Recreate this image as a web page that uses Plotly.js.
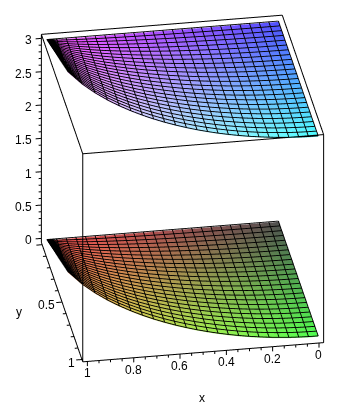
<!DOCTYPE html>
<html>
<head>
<meta charset="utf-8">
<script src="https://cdn.plot.ly/plotly-3.0.1.min.js"></script>
<style>html,body{margin:0;padding:0;background:#fff}#plot{width:356px;height:405px}</style>
</head>
<body>
<div id="plot"></div>
<script>
var xGrid = [0,0.0417,0.0833,0.125,0.1667,0.2083,0.25,0.2917,0.3333,0.375,0.4167,0.4583,0.5,0.5417,0.5833,0.625,0.6667,0.7083,0.75,0.7917,0.8333,0.875,0.9167,0.9583,1];
var yLimit = [1,0.9991,0.9965,0.9922,0.986,0.9781,0.9682,0.9565,0.9428,0.927,0.9091,0.8888,0.866,0.8406,0.8122,0.7806,0.7454,0.7059,0.6614,0.6109,0.5528,0.4841,0.3997,0.286,0];
var fanFraction = [0,0.0417,0.0833,0.125,0.1667,0.2083,0.25,0.2917,0.3333,0.375,0.4167,0.4583,0.5,0.5417,0.5833,0.625,0.6667,0.7083,0.75,0.7917,0.8333,0.875,0.9167,0.9583,1];
var sheetHeights = [0,3];

var xTicks = [0,0.2,0.4,0.6,0.8,1];
var xMinor = [0.05,0.1,0.15,0.25,0.3,0.35,0.45,0.5,0.55,0.65,0.7,0.75,0.85,0.9,0.95];
var yTicks = [0,0.5,1];
var yMinor = [0.1,0.2,0.3,0.4,0.6,0.7,0.8,0.9];
var zTicks = [0,0.5,1,1.5,2,2.5,3];
var zMinor = [0.1,0.2,0.3,0.4,0.6,0.7,0.8,0.9,1.1,1.2,1.3,1.4,1.6,1.7,1.8,1.9,2.1,2.2,2.3,2.4,2.6,2.7,2.8,2.9];
var xBox = [-0.02,1.02], yBox = [-0.02,1.02], zBox = [-0.06,3.06];
var CAM = {eye:{x:0.144*2,y:0.867*2,z:0.48*2}};

function chan(v){return Math.round(80+175*v);}
var traces = [];
sheetHeights.forEach(function(h){
  var X=[],Y=[],Z=[],C=[],I=[],J=[],K=[],n=xGrid.length,m=fanFraction.length;
  for(var a=0;a<n;a++)for(var b=0;b<m;b++){
    var yy=yLimit[a]*fanFraction[b];
    X.push(xGrid[a]);Y.push(yy);Z.push(h);
    C.push('rgb('+chan(xGrid[a])+','+chan(yy)+','+chan(h/3)+')');
  }
  for(a=0;a<n-1;a++)for(b=0;b<m-1;b++){
    var p=a*m+b;
    I.push(p,p);J.push(p+m,p+m+1);K.push(p+m+1,p+1);
  }
  traces.push({type:'mesh3d',x:X,y:Y,z:Z,i:I,j:J,k:K,vertexcolor:C,flatshading:false,
    lighting:{ambient:1,diffuse:0,specular:0,roughness:1,fresnel:0},hoverinfo:'skip',showscale:false});
  var lx=[],ly=[],lz=[],lift=h+0.012;
  for(a=0;a<n;a++){for(b=0;b<m;b++){lx.push(xGrid[a]);ly.push(yLimit[a]*fanFraction[b]);lz.push(lift);}lx.push(null);ly.push(null);lz.push(null);}
  for(b=0;b<m;b++){for(a=0;a<n;a++){lx.push(xGrid[a]);ly.push(yLimit[a]*fanFraction[b]);lz.push(lift);}lx.push(null);ly.push(null);lz.push(null);}
  traces.push({type:'scatter3d',mode:'lines',x:lx,y:ly,z:lz,line:{color:'#000',width:1.8},hoverinfo:'skip',showlegend:false});
});

var bx=[],by=[],bz=[];
function seg(a,b){bx.push(a[0],b[0],null);by.push(a[1],b[1],null);bz.push(a[2],b[2],null);}
var x0=xBox[0],x1=xBox[1],y0=yBox[0],y1=yBox[1],z0=zBox[0],z1=zBox[1];
seg([x1,y0,z1],[x0,y0,z1]);seg([x0,y0,z1],[x0,y1,z1]);seg([x0,y1,z1],[x1,y1,z1]);seg([x1,y1,z1],[x1,y0,z1]);
seg([x1,y0,z0],[x1,y0,z1]);seg([x1,y1,z0],[x1,y1,z1]);seg([x0,y1,z0],[x0,y1,z1]);
seg([x1,y0,z0],[x1,y1,z0]);seg([x1,y1,z0],[x0,y1,z0]);
xTicks.forEach(function(t){seg([t,y1,z0],[t,y1,z0-0.07]);});
xMinor.forEach(function(t){seg([t,y1,z0],[t,y1,z0-0.04]);});
yTicks.forEach(function(t){seg([x1,t,z0],[x1+0.025,t,z0]);});
yMinor.forEach(function(t){seg([x1,t,z0],[x1+0.014,t,z0]);});
zTicks.forEach(function(t){seg([x1,y0,t],[x1+0.025,y0,t]);});
zMinor.forEach(function(t){seg([x1,y0,t],[x1+0.012,y0,t]);});
traces.push({type:'scatter3d',mode:'lines',x:bx,y:by,z:bz,line:{color:'#000',width:2},hoverinfo:'skip',showlegend:false});

var font={family:'"Liberation Sans",Arial,sans-serif',size:12,color:'#000'};
var ann=[];
function label(txt,x,y,z,xa,xs,ys){ann.push({x:x,y:y,z:z,text:txt,showarrow:false,xanchor:xa,yanchor:'middle',xshift:xs,yshift:ys,font:font});}
xTicks.forEach(function(t){label(String(t),t,y1,z0,'center',0,-12);});
yTicks.forEach(function(t){if(t>0)label(String(t),x1,t,z0,'right',-5,-3);});
zTicks.forEach(function(t){label(String(t),x1,y0,t,'right',-7,-2);});
label('x',0.5,y1,z0,'center',-1,-46);
label('y',x1,0.5,z0,'center',-43,-10);

function hidden(r){return {visible:false,range:r};}
var layout={width:356,height:405,margin:{l:0,r:0,t:0,b:0},paper_bgcolor:'#fff',showlegend:false,
  scene:{domain:{x:[0.024,1],y:[0.069,1]},aspectmode:'manual',aspectratio:{x:1.37,y:1.417,z:1.33},
    xaxis:hidden([-0.05,1.05]),yaxis:hidden([-0.05,1.05]),zaxis:hidden([-0.15,3.15]),
    camera:{eye:CAM.eye,up:{x:0,y:0,z:1},center:{x:0,y:0,z:0},projection:{type:'orthographic'}},
    annotations:ann}};
Plotly.newPlot('plot',traces,layout,{displayModeBar:false});
</script>
</body>
</html>
